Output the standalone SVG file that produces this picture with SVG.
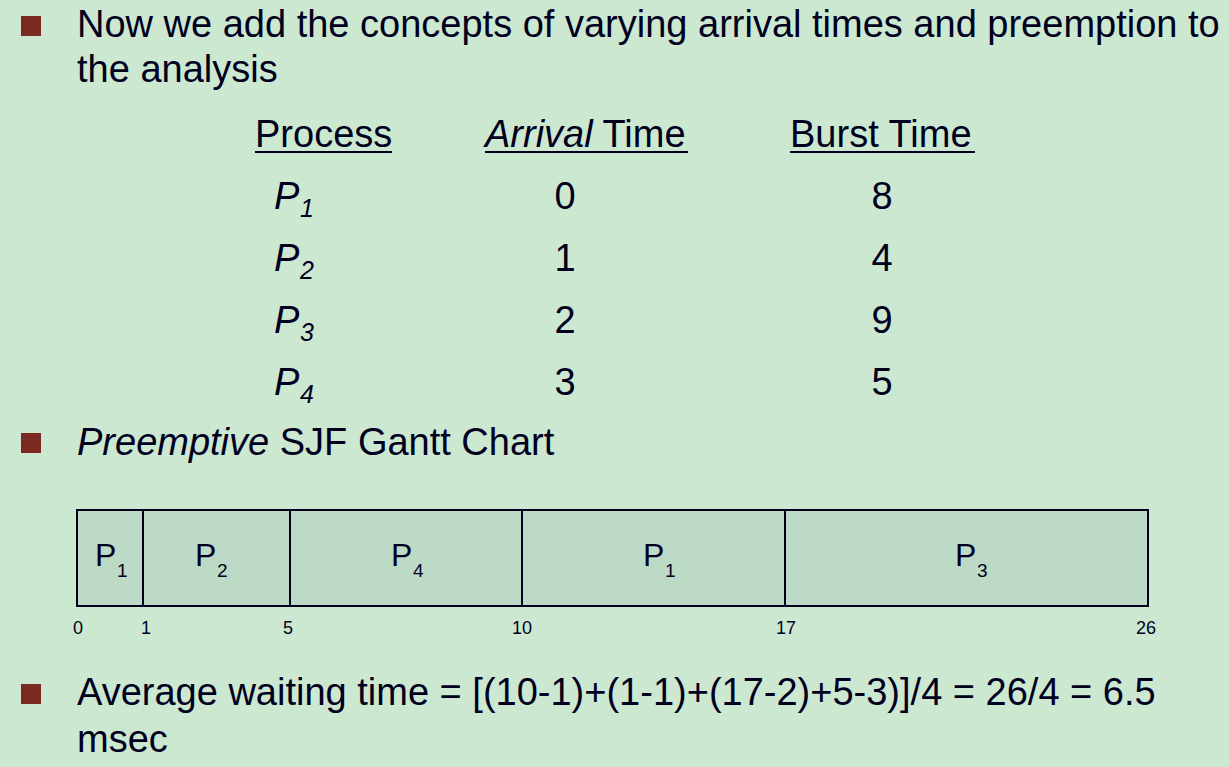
<svg xmlns="http://www.w3.org/2000/svg" width="1229" height="767" viewBox="0 0 1229 767">
<style>
.t{font-family:"Liberation Sans",Arial,sans-serif;fill:#00001e}
.b{font-size:38px}
.h{font-size:38px}
.i{font-style:italic}
.sub{font-size:25px;font-style:italic}
.c{font-size:32px}
.cs{font-size:19px}
.tk{font-size:18px}
.bul{fill:#7b2a22}
.ul{stroke:#00001e;stroke-width:2}
.cell{fill:#bcdac6;stroke:#00001e;stroke-width:2}
</style>
<rect width="1229" height="767" fill="#cce8d0"/>
<g id="bullets">
<rect class="bul" x="21" y="16" width="20" height="20"/>
<rect class="bul" x="21" y="433" width="20" height="20"/>
<rect class="bul" x="21" y="684" width="20" height="20"/>
</g>
<g id="intro">
<text class="t b" x="77" y="37">Now we add the concepts of varying arrival times and preemption to</text>
<text class="t b" x="77" y="82">the analysis</text>
</g>
<g id="table">
<text class="t h" x="255" y="147">Process</text>
<line class="ul" x1="255" y1="152" x2="392" y2="152"/>
<text class="t h" x="485" y="147"><tspan class="i">Arrival</tspan> Time</text>
<line class="ul" x1="485" y1="152" x2="688" y2="152"/>
<text class="t h" x="790" y="147">Burst Time</text>
<line class="ul" x1="790" y1="152" x2="975" y2="152"/>
<text class="t h i" x="274" y="209">P</text><text class="t sub" x="300" y="217">1</text>
<text class="t h i" x="274" y="271">P</text><text class="t sub" x="300" y="279">2</text>
<text class="t h i" x="274" y="333">P</text><text class="t sub" x="300" y="341">3</text>
<text class="t h i" x="274" y="395">P</text><text class="t sub" x="300" y="403">4</text>
<g text-anchor="middle">
<text class="t h" x="565" y="209">0</text>
<text class="t h" x="565" y="271">1</text>
<text class="t h" x="565" y="333">2</text>
<text class="t h" x="565" y="395">3</text>
<text class="t h" x="882" y="209">8</text>
<text class="t h" x="882" y="271">4</text>
<text class="t h" x="882" y="333">9</text>
<text class="t h" x="882" y="395">5</text>
</g>
</g>
<g id="gantt-title">
<text class="t b" x="77" y="455"><tspan class="i">Preemptive</tspan> SJF Gantt Chart</text>
</g>
<g id="gantt">
<g id="seg-p1a"><rect class="cell" x="77" y="510" width="66" height="96"/><text class="t c" x="95" y="566">P</text><text class="t cs" x="117" y="577">1</text></g>
<g id="seg-p2"><rect class="cell" x="143" y="510" width="147" height="96"/><text class="t c" x="195" y="566">P</text><text class="t cs" x="217" y="577">2</text></g>
<g id="seg-p4"><rect class="cell" x="290" y="510" width="232" height="96"/><text class="t c" x="391" y="566">P</text><text class="t cs" x="413" y="577">4</text></g>
<g id="seg-p1b"><rect class="cell" x="522" y="510" width="263" height="96"/><text class="t c" x="643" y="566">P</text><text class="t cs" x="665" y="577">1</text></g>
<g id="seg-p3"><rect class="cell" x="785" y="510" width="363" height="96"/><text class="t c" x="955" y="566">P</text><text class="t cs" x="977" y="577">3</text></g>
</g>
<g id="ticks" text-anchor="middle">
<text class="t tk" x="78" y="634">0</text>
<text class="t tk" x="146" y="634">1</text>
<text class="t tk" x="288" y="634">5</text>
<text class="t tk" x="522" y="634">10</text>
<text class="t tk" x="786" y="634">17</text>
<text class="t tk" x="1146" y="634">26</text>
</g>
<g id="avg">
<text class="t b" x="77" y="705">Average waiting time = [(10-1)+(1-1)+(17-2)+5-3)]/4 = 26/4 = 6.5</text>
<text class="t b" x="77" y="752">msec</text>
</g>
</svg>
